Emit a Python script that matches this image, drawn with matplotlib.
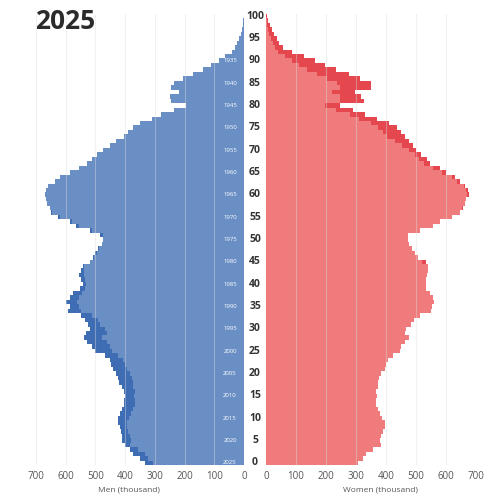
import numpy as np
import matplotlib
matplotlib.use('Agg')
import matplotlib.pyplot as plt
from matplotlib.transforms import blended_transform_factory

# population by single year of age (thousand), ages 0..100
ages = np.arange(0, 101)
men = [333, 350, 373, 384, 401, 412, 412, 415, 418, 423,
       423, 418, 412, 404, 404, 401, 404, 412, 420, 423,
       431, 440, 446, 451, 468, 502, 513, 527, 539, 532,
       519, 524, 535, 547, 591, 586, 599, 586, 575, 552,
       541, 547, 554, 547, 543, 519, 507, 502, 490, 479,
       474, 485, 519, 566, 586, 625, 648, 653, 664, 668,
       670, 668, 659, 636, 620, 585, 555, 528, 510, 495,
       475, 452, 430, 404, 390, 373, 350, 311, 280, 234,
       195, 245, 248, 219, 245, 236, 204, 171, 137, 110,
       85, 63, 39, 30, 22, 16, 11, 7, 4, 2, 1]
women = [307, 323, 334, 357, 384, 379, 384, 390, 395, 395,
         388, 379, 373, 368, 368, 371, 368, 373, 373, 376,
         384, 395, 401, 406, 423, 445, 451, 462, 478, 462,
         467, 484, 492, 512, 550, 554, 561, 556, 545, 534,
         532, 534, 537, 539, 539, 534, 506, 495, 487, 478,
         473, 473, 512, 556, 580, 620, 645, 656, 664, 667,
         675, 672, 662, 645, 630, 600, 580, 548, 535, 518,
         500, 490, 475, 463, 450, 435, 410, 370, 330, 290,
         248, 325, 318, 298, 350, 350, 312, 275, 234, 198,
         164, 128, 85, 58, 44, 35, 27, 19, 13, 8, 4]
year = 2025
age_ticks = list(range(0, 101, 5))
birth_ticks = list(range(0, 91, 5))
x_ticks = [0, 100, 200, 300, 400, 500, 600, 700]

men = np.array(men)
women = np.array(women)
common = np.minimum(men, women)

blue = '#6a8fc5'
blue_dark = '#3e6db4'
red = '#ef7b7c'
red_dark = '#e5474f'
font = ['Open Sans', 'DejaVu Sans']

fig = plt.figure(figsize=(4.98, 5.0), dpi=100)
ax_l = fig.add_axes([36 / 498, 0.07, 208 / 498, 0.9024])
ax_r = fig.add_axes([266 / 498, 0.07, 210 / 498, 0.9024])

h = 1.0
ax_l.barh(ages, common, height=h, color=blue, linewidth=0, zorder=2)
ax_l.barh(ages, men - common, left=common, height=h, color=blue_dark, linewidth=0, zorder=2)
ax_r.barh(ages, common, height=h, color=red, linewidth=0, zorder=2)
ax_r.barh(ages, women - common, left=common, height=h, color=red_dark, linewidth=0, zorder=2)

ax_l.set_xlim(700, 0)
ax_r.set_xlim(0, 700)
for ax in (ax_l, ax_r):
    ax.set_ylim(-0.5, 100.5)
    ax.set_yticks([])
    ax.set_xticks(x_ticks)
    ax.set_xticklabels([str(t) for t in x_ticks], family=font, fontsize=7, color='#555555')
    ax.tick_params(axis='x', length=0, pad=4)
    for s in ax.spines.values():
        s.set_visible(False)
    for t in x_ticks[1:]:
        ax.axvline(t, color='#dddddd', alpha=0.4, linewidth=0.8, zorder=3)

# age labels between the halves
tr = blended_transform_factory(fig.transFigure, ax_r.transData)
for a in age_ticks:
    fig.text(255 / 498, a, str(a), transform=tr, ha='center', va='center',
             family=font, fontsize=7.5, fontweight='bold', color='#333333')

# birth years inside the men's bars
for a in birth_ticks:
    ax_l.text(24, a, str(year - a), ha='right', va='center', family=font,
              fontsize=4.3, color='white', zorder=4)

fig.text(35 / 498, 1 - 29.3 / 500, str(year), ha='left', va='baseline',
         family=font, fontsize=19, fontweight='bold', color='#2b2b2b')
fig.text(129 / 498, 1 - 490 / 500, 'Men (thousand)', ha='center', va='center',
         family=font, fontsize=6, color='#555555')
fig.text(380 / 498, 1 - 490 / 500, 'Women (thousand)', ha='center', va='center',
         family=font, fontsize=6, color='#555555')

fig.savefig('out.png', dpi=100)
